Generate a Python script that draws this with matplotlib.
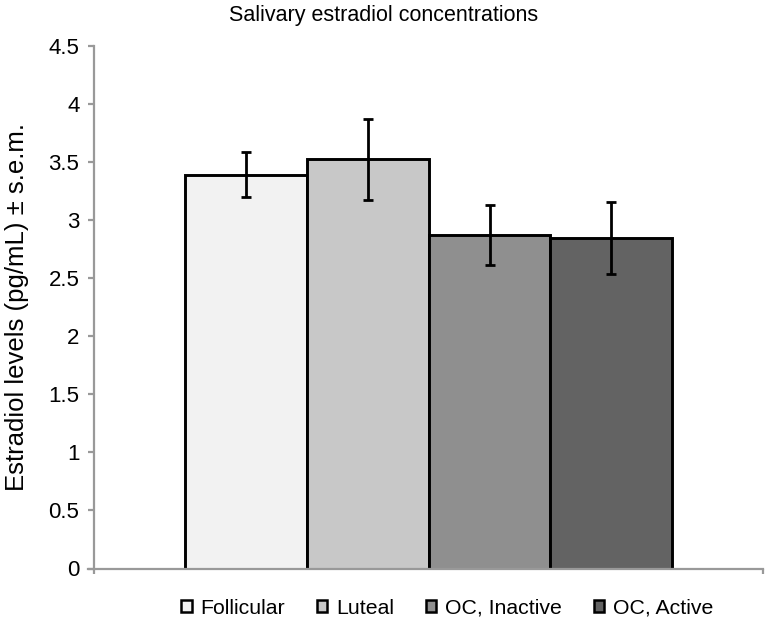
import numpy as np
import matplotlib
matplotlib.use("Agg")
import matplotlib.pyplot as plt
from matplotlib.patches import Patch

plt.rcParams['font.family'] = ['Liberation Sans', 'DejaVu Sans']

# data
groups = ['Follicular', 'Luteal', 'OC, Inactive', 'OC, Active']
means = [3.39, 3.52, 2.87, 2.84]
sems = [0.19, 0.35, 0.26, 0.31]
colors = ['#f2f2f2', '#c8c8c8', '#8f8f8f', '#636363']
yticks = [0, 0.5, 1, 1.5, 2, 2.5, 3, 3.5, 4, 4.5]
ytick_labels = ['0', '0.5', '1', '1.5', '2', '2.5', '3', '3.5', '4', '4.5']

fig = plt.figure(figsize=(7.65, 6.22), dpi=100)
ax = fig.add_axes([94 / 765, 1 - 568.5 / 622, 1 - 94 / 765 - 0.002, (568.5 - 45.5) / 622])

x = np.arange(len(groups)) - 1.5
ax.bar(x, means, width=1.0, color=colors, edgecolor='black', linewidth=2.1, zorder=2)
ax.errorbar(x, means, yerr=sems, fmt='none', ecolor='black', elinewidth=2.0,
            capsize=3.6, capthick=2.0, zorder=3)

ax.set_xlim(-2.75, 2.75)
ax.set_ylim(0, 4.5)
ax.set_yticks(yticks)
ax.set_yticklabels(ytick_labels)
ax.set_xticks([-2.75, 2.75])
ax.set_xticklabels([])

for side in ['top', 'right']:
    ax.spines[side].set_visible(False)
for side in ['left', 'bottom']:
    ax.spines[side].set_color('#999999')
    ax.spines[side].set_linewidth(1.6)
ax.tick_params(axis='y', direction='out', length=4.5, width=1.6, color='#999999',
               labelsize=16, pad=6)
ax.tick_params(axis='x', direction='out', length=3.5, width=1.6, color='#999999')
ax.spines['bottom'].set_bounds(-2.75 - 0.05, 2.75)

ax.set_ylabel('Estradiol levels (pg/mL) \u00b1 s.e.m.', fontsize=18.5, labelpad=14)
fig.text(0.502, 1 - 16 / 622, 'Salivary estradiol concentrations',
         ha='center', va='center', fontsize=15.5)

handles = [Patch(facecolor=c, edgecolor='black', linewidth=1.8) for c in colors]
fig.legend(handles, groups, loc='center', ncol=4, frameon=False,
           bbox_to_anchor=(447 / 765, 1 - 608 / 622), fontsize=15.3,
           handlelength=0.5, handleheight=0.5, handletextpad=0.4, columnspacing=1.5)

fig.savefig('out.png', dpi=100)
